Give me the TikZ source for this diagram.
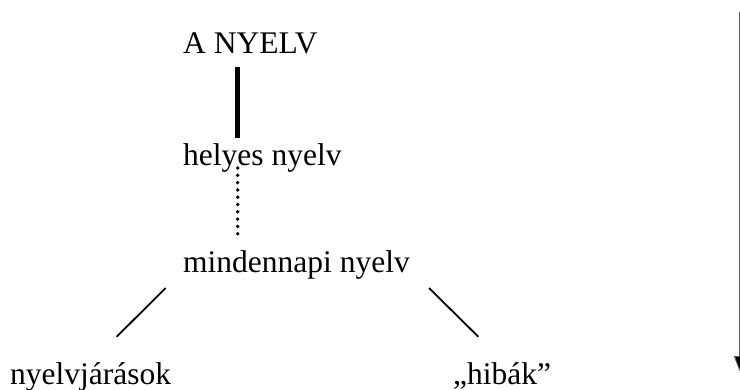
\documentclass[tikz,border=0pt]{standalone}
\usepackage{fontspec}
\setmainfont{Liberation Serif}
\usetikzlibrary{arrows.meta}
\begin{document}
\begin{tikzpicture}[x=1pt,y=-1pt,
  label/.style={anchor=base west,inner sep=0pt,font=\fontsize{31.5}{36}\selectfont},
  stem/.style={line width=4.5pt},
  dotline/.style={line width=3.8pt,line cap=round,dash pattern=on 0pt off 7.3pt},
  branch/.style={line width=1.8pt},
  axis/.style={line width=0.9pt,draw=black!65,-{Triangle[width=11pt,length=15pt,fill=black]}}]
  \useasboundingbox (0,0) rectangle (740,389);

  % labels
  \node[label] (lang)  at (183,53)  {A NYELV};
  \node[label] (corr)  at (183,165) {helyes nyelv};
  \node[label] (daily) at (183,272) {mindennapi nyelv};
  \node[label] (dial)  at (10,384)  {nyelvjárások};
  \node[label] (err)   at (453,384) {„hibák”};

  % connector end points
  \coordinate (s1) at (237.7,67);
  \coordinate (s2) at (237.7,138);
  \coordinate (d1) at (237.7,168);
  \coordinate (d2) at (237.7,240);
  \coordinate (l1) at (165.7,288);
  \coordinate (l2) at (116.7,336.7);
  \coordinate (r1) at (429,288);
  \coordinate (r2) at (478.3,336.7);
  \coordinate (a1) at (739.5,12);
  \coordinate (a2) at (739.5,371);

  \draw[stem] (s1) -- (s2);
  \draw[dotline] (d1) -- (d2);
  \draw[branch] (l1) -- (l2);
  \draw[branch] (r1) -- (r2);
  \draw[axis] (a1) -- (a2);
\end{tikzpicture}
\end{document}
